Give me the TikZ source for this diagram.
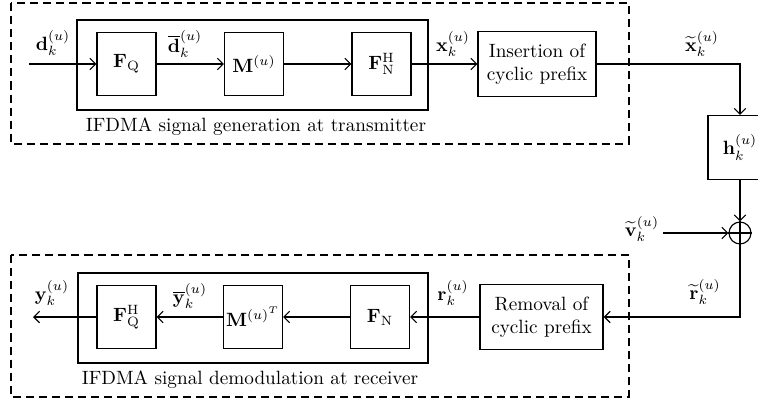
\documentclass[tikz,border=0pt]{standalone}
\usepackage{amsmath}
\usepackage{amssymb}
\usepackage{tikz}
\usetikzlibrary{calc, arrows.meta, positioning}

\begin{document}
\begin{tikzpicture}[x=0.52pt, y=-0.52pt, >={Straight Barb[length=3pt, width=6pt]}, semithick,
  blk/.style={draw, inner sep=0pt, minimum width=30.7pt, minimum height=32.8pt},
  txtblk/.style={draw, align=center, inner sep=0pt, minimum width=63pt, minimum height=33.5pt},
  grp/.style={draw, dash pattern=on 4.2pt off 2.6pt},
  sig/.style={inner sep=1pt}]

  \useasboundingbox (0,0) rectangle (758,402);

  % Transmitter (top row)
  \draw[grp] (11,3) rectangle (629,144);
  \draw (77,20) rectangle (428,110);
  \node[blk] (FQ) at (126.5,64) {$\mathbf{F}_{\mathrm{Q}}$};
  \node[blk] (M) at (254,64) {$\mathbf{M}^{(u)}$};
  \node[blk] (FNH) at (381.5,64) {$\mathbf{F}_{\mathrm{N}}^{\mathrm{H}}$};
  \node[txtblk, minimum width=61.4pt] (ins) at (537,64) {Insertion of\\cyclic prefix};
  \node (txcap) at (256,127) {IFDMA signal generation at transmitter};

  % Channel and noise
  \node[blk, minimum width=33.3pt, minimum height=33.3pt] (h) at (740,147.5) {$\mathbf{h}_k^{(u)}$};
  \node[draw, circle, minimum size=11.4pt, inner sep=0pt] (sum) at (740,233) {};
  \draw (sum.north) -- (sum.south) (sum.west) -- (sum.east);

  % Receiver (bottom row)
  \draw[grp] (11,255) rectangle (629,397);
  \draw (78,273) rectangle (428,363);
  \node[blk] (FQH) at (126.5,317) {$\mathbf{F}_{\mathrm{Q}}^{\mathrm{H}}$};
  \node[blk] (MT) at (253,317) {$\mathbf{M}^{{(u)}^{T}}$};
  \node[blk] (FN) at (380,317) {$\mathbf{F}_{\mathrm{N}}$};
  \node[txtblk, minimum width=64pt, minimum height=33.8pt] (rem) at (541.5,317) {Removal of\\cyclic prefix};
  \node (rxcap) at (250,380) {IFDMA signal demodulation at receiver};

  % free ends
  \coordinate (din) at (29,64);
  \coordinate (vin) at (663,233);
  \coordinate (yout) at (33,317);

  % Signal flow
  \draw[->] (din) -- (FQ);
  \draw[->] (FQ) -- (M);
  \draw[->] (M) -- (FNH);
  \draw[->] (FNH) -- (ins);
  \draw[->] (ins) -| (h);
  \draw[->] (h) -- (sum);
  \draw[->] (vin) -- (sum);
  \draw[->] (sum) |- (rem);
  \draw[->] (rem) -- (FN);
  \draw[->] (FN) -- (MT);
  \draw[->] (MT) -- (FQH);
  \draw[->] (FQH) -- (yout);

  % Signal labels
  \node[sig] (dlbl) at (53,43) {$\mathbf{d}_k^{(u)}$};
  \node[sig] (dbar) at (185,44) {$\overline{\mathbf{d}}_k^{(u)}$};
  \node[sig] (xlbl) at (453,44) {$\mathbf{x}_k^{(u)}$};
  \node[sig] (xtil) at (702,44) {$\widetilde{\mathbf{x}}_k^{(u)}$};
  \node[sig] (vtil) at (642,229) {$\widetilde{\mathbf{v}}_k^{(u)}$};
  \node[sig] (rtil) at (705,292) {$\widetilde{\mathbf{r}}_k^{(u)}$};
  \node[sig] (rlbl) at (453,293) {$\mathbf{r}_k^{(u)}$};
  \node[sig] (ybar) at (190,296) {$\overline{\mathbf{y}}_k^{(u)}$};
  \node[sig] (ylbl) at (52,293) {$\mathbf{y}_k^{(u)}$};
\end{tikzpicture}
\end{document}
